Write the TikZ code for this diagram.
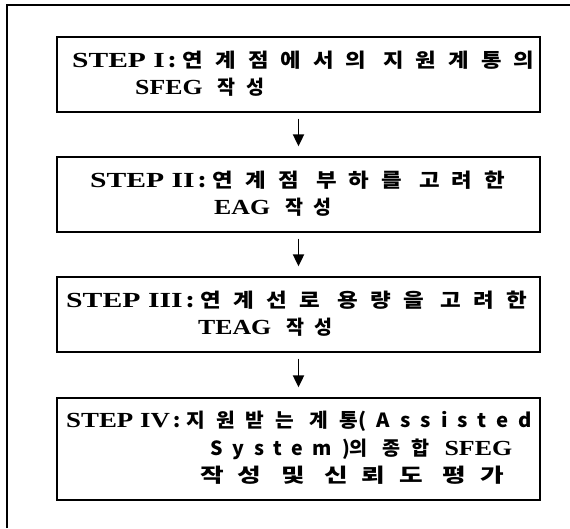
\documentclass[tikz,border=0pt]{standalone}
\usepackage{fontspec}
\usetikzlibrary{arrows.meta}
\setmainfont{Liberation Serif}
\newfontfamily\kr{Noto Sans CJK KR}[LetterSpace=54]
\newfontfamily\krl{Noto Sans CJK KR}[LetterSpace=50]
\newcommand\ko[1]{{\kr\bfseries\fontsize{19.5}{19.5}\selectfont #1}}
\newcommand\kol[1]{{\krl\bfseries\fontsize{19.5}{19.5}\selectfont #1}}
\newcommand\la[1]{\scalebox{1.2}[1]{\bfseries\fontsize{21.5}{21.5}\selectfont #1}}
\newcommand\cln{\kern3pt:\kern6pt}
\newsavebox\fitbox
\newcommand\fitline[2]{\sbox\fitbox{#2}\pgfmathsetmacro\fitscale{#1/(\the\wd\fitbox)}\scalebox{\fitscale}[1]{\usebox\fitbox}}
\tikzset{
  stepbox/.style={draw=black, line width=1.3pt, minimum width=483pt, inner sep=0pt},
  txt/.style={anchor=base west, inner sep=0pt},
  arr/.style={line width=1.9pt, -{Triangle[width=11pt,length=12pt]}, shorten <=6pt, shorten >=10pt}
}
\begin{document}
\begin{tikzpicture}[x=1pt,y=-1pt]
\useasboundingbox (0,0) rectangle (570,528);
% outer frame (top and left visible)
\coordinate (fl) at (7,528);
\coordinate (fc) at (7,5);
\coordinate (fr) at (570,5);
\draw[line width=1.4pt] (fl) -- (fc) -- (fr);
% boxes
\node[stepbox, minimum height=75pt] (b1) at (298.5,74.5) {};
\node[stepbox, minimum height=75pt] (b2) at (298.5,194.5) {};
\node[stepbox, minimum height=75pt] (b3) at (298.5,314.5) {};
\node[stepbox, minimum height=102pt] (b4) at (298.5,449) {};
% texts
\node[txt] (t1a) at (72,67) {\fitline{450}{\la{STEP I}\ko{\cln 연계점에서의 지원계통의\kern-10.5pt}}};
\node[txt] (t1b) at (135,94) {\la{SFEG}\ko{ 작성}};
\node[txt] (t2a) at (90,187) {\fitline{403}{\la{STEP II}\ko{\cln 연계점 부하를 고려한\kern-10.5pt}}};
\node[txt] (t2b) at (214,214) {\la{EAG}\ko{ 작성}};
\node[txt] (t3a) at (66,307) {\fitline{449}{\la{STEP III}\ko{\cln 연계선로 용량을 고려한\kern-10.5pt}}};
\node[txt] (t3b) at (198,334) {\la{TEAG}\ko{ 작성}};
\node[txt] (t4a) at (66,427) {\fitline{456}{\la{STEP IV}\ko{\cln 지원받는 계통}\kol{(Assisted\kern-9.75pt}}};
\node[txt] (t4b) at (210,455) {\fitline{302}{\kol{System)}\ko{의 종합 }\la{SFEG}}};
\node[txt] (t4c) at (200,482) {\fitline{290}{\ko{작성 및 신뢰도 평가\kern-10.5pt}}};
% arrows
\draw[arr] (b1) -- (b2);
\draw[arr] (b2) -- (b3);
\draw[arr] (b3) -- (b4);
\end{tikzpicture}
\end{document}
